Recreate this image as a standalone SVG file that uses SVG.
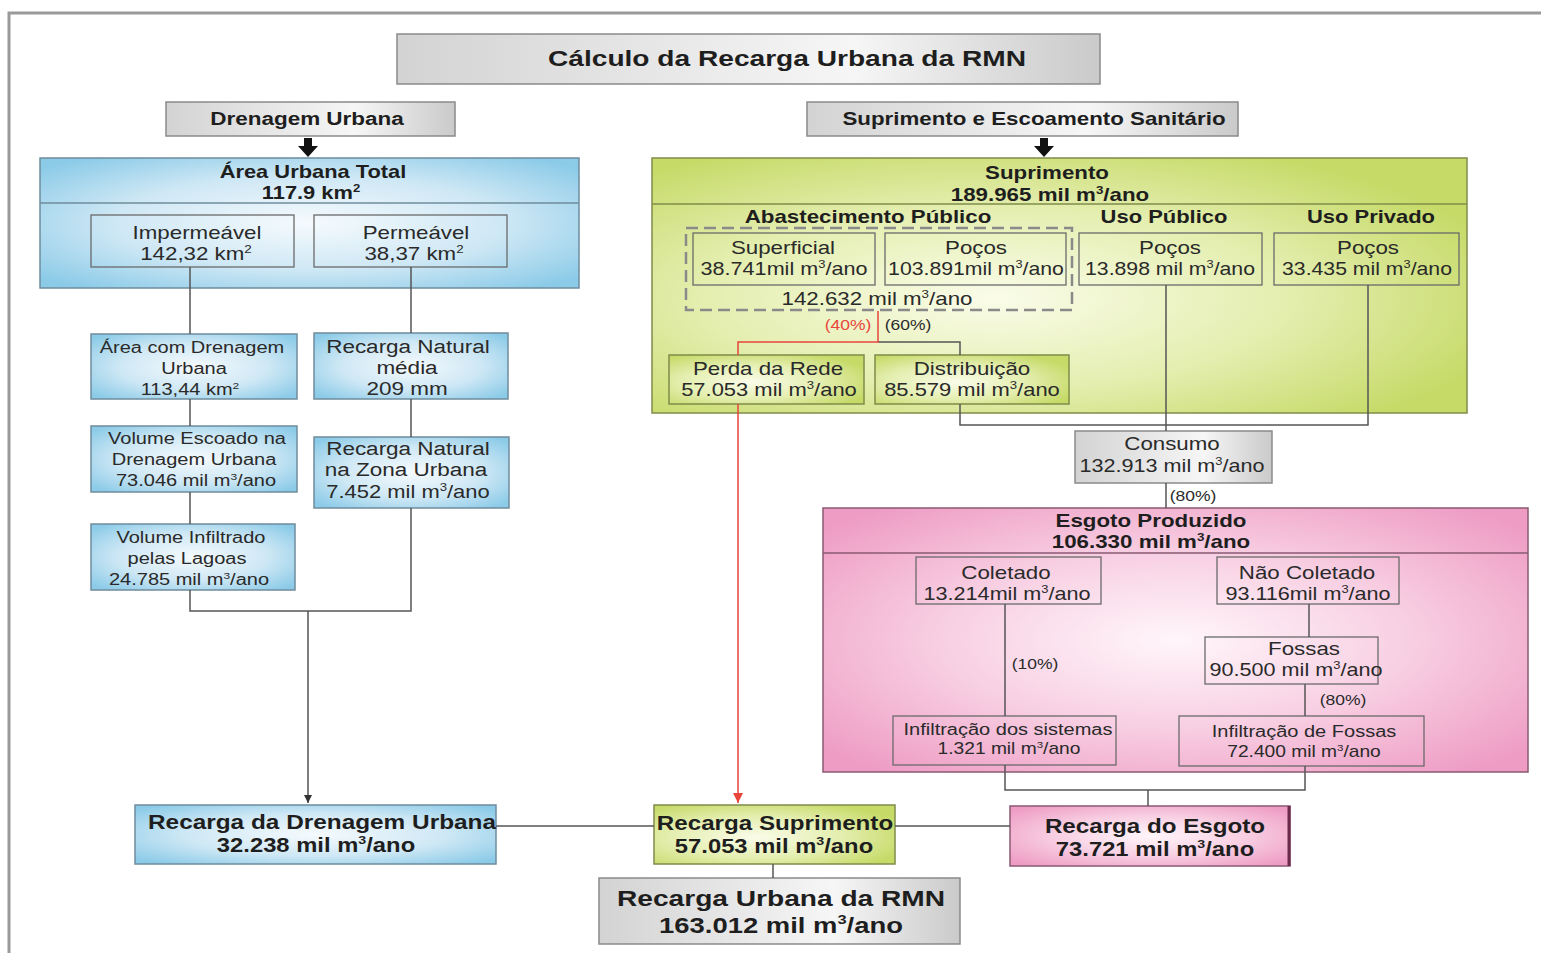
<svg xmlns="http://www.w3.org/2000/svg" width="1541" height="953" viewBox="0 0 1541 953">
<defs>
<radialGradient id="gB" cx="0.5" cy="0.5" r="0.65"><stop offset="0" stop-color="#f5fafd"/><stop offset="0.55" stop-color="#cfe8f5"/><stop offset="1" stop-color="#8ccbe8"/></radialGradient>
<radialGradient id="gG" cx="0.42" cy="0.55" r="0.65"><stop offset="0" stop-color="#fafce9"/><stop offset="0.55" stop-color="#e4eeaf"/><stop offset="1" stop-color="#c6da68"/></radialGradient>
<radialGradient id="gP" cx="0.5" cy="0.5" r="0.65"><stop offset="0" stop-color="#fff6fa"/><stop offset="0.5" stop-color="#f8d0e3"/><stop offset="1" stop-color="#ee9cc4"/></radialGradient>
<linearGradient id="gY" x1="0" y1="0" x2="1" y2="0"><stop offset="0" stop-color="#d3d3d3"/><stop offset="0.65" stop-color="#f6f6f6"/><stop offset="1" stop-color="#cacaca"/></linearGradient>
<marker id="aK" markerWidth="10" markerHeight="10" refX="8" refY="4" orient="auto" markerUnits="userSpaceOnUse"><path d="M0,0 L8,4 L0,8 z" fill="#333"/></marker>
<marker id="aR" markerWidth="12" markerHeight="12" refX="10" refY="5" orient="auto" markerUnits="userSpaceOnUse"><path d="M0,0 L10,5 L0,10 z" fill="#e8453c"/></marker>
<style>
.t{font-family:"Liberation Sans",Arial,sans-serif;text-anchor:middle;fill:#2a2a2a}
.b{font-weight:bold;fill:#1e1e1e}
.s14{font-size:14px}
.s16{font-size:16px}
.s175{font-size:17.5px}
.s18{font-size:18px}
.s195{font-size:19.5px}
.s225{font-size:22.5px}
.sp{font-size:60%}
.bxB{fill:url(#gB);stroke:#6f8c9c;stroke-width:1.5}
.bxG{fill:url(#gG);stroke:#7f8c4a;stroke-width:1.5}
.bxP{fill:url(#gP);stroke:#8a5a72;stroke-width:1.5}
.bxY{fill:url(#gY);stroke:#8a8a8a;stroke-width:1.5}
.in{fill:none;stroke:#6a6a6a;stroke-width:1.3}
.ln{fill:none;stroke:#555;stroke-width:1.5}
.red{fill:none;stroke:#e8453c;stroke-width:1.5}
.dash{fill:none;stroke:#8a8a8a;stroke-width:2.5;stroke-dasharray:12 6}
.arr{fill:#111}
</style>
</defs>
<rect width="1541" height="953" fill="#ffffff"/>
<path d="M9 953 V13 H1541" fill="none" stroke="#9a9a9a" stroke-width="3"/>

<g id="title">
<rect class="bxY" x="397" y="34" width="703" height="50"/>
<text class="t b s225" transform="matrix(1.25 0 0 1 787 0)" x="0" y="66">Cálculo da Recarga Urbana da RMN</text>
</g>

<g id="hdr-drenagem">
<rect class="bxY" x="166" y="102" width="289" height="34"/>
<text class="t b s18" transform="matrix(1.25 0 0 1 307 0)" x="0" y="125">Drenagem Urbana</text>
<polygon class="arr" points="304,138 312,138 312,146 318,146 308,157 298,146 304,146"/>
</g>

<g id="hdr-suprimento">
<rect class="bxY" x="807" y="102" width="431" height="34"/>
<text class="t b s18" transform="matrix(1.24 0 0 1 1034 0)" x="0" y="125">Suprimento e Escoamento Sanitário</text>
<polygon class="arr" points="1040,138 1048,138 1048,146 1054,146 1044,157 1034,146 1040,146"/>
</g>

<g id="area-urbana-total">
<rect class="bxB" x="40" y="158" width="539" height="130"/>
<line x1="40" y1="203" x2="579" y2="203" stroke="#6f8c9c" stroke-width="1.5"/>
<text class="t b s175" transform="matrix(1.25 0 0 1 313 0)" x="0" y="178">Área Urbana Total</text>
<text class="t b s175" transform="matrix(1.25 0 0 1 311 0)" x="0" y="199">117.9 km<tspan class="sp" dy="-7">2</tspan></text>
</g>

<g id="impermeavel">
<rect class="in" x="91" y="215" width="203" height="52"/>
<text class="t s18" transform="matrix(1.24 0 0 1 197 0)" x="0" y="239">Impermeável</text>
<text class="t s18" transform="matrix(1.24 0 0 1 196 0)" x="0" y="260">142,32 km<tspan class="sp" dy="-7">2</tspan></text>
</g>

<g id="permeavel">
<rect class="in" x="314" y="215" width="193" height="52"/>
<text class="t s18" transform="matrix(1.24 0 0 1 416 0)" x="0" y="239">Permeável</text>
<text class="t s18" transform="matrix(1.24 0 0 1 414 0)" x="0" y="260">38,37 km<tspan class="sp" dy="-7">2</tspan></text>
</g>

<g id="area-drenagem">
<rect class="bxB" x="91" y="334" width="206" height="65"/>
<text class="t s16" transform="matrix(1.25 0 0 1 192 0)" x="0" y="353">Área com Drenagem</text>
<text class="t s16" transform="matrix(1.25 0 0 1 194 0)" x="0" y="374">Urbana</text>
<text class="t s16" transform="matrix(1.25 0 0 1 190 0)" x="0" y="395">113,44 km<tspan class="sp" dy="-6">2</tspan></text>
</g>

<g id="recarga-natural-media">
<rect class="bxB" x="314" y="333" width="194" height="66"/>
<text class="t s18" transform="matrix(1.25 0 0 1 408 0)" x="0" y="353">Recarga Natural</text>
<text class="t s18" transform="matrix(1.25 0 0 1 407 0)" x="0" y="374">média</text>
<text class="t s18" transform="matrix(1.25 0 0 1 407 0)" x="0" y="395">209 mm</text>
</g>

<g id="volume-escoado">
<rect class="bxB" x="91" y="426" width="206" height="66"/>
<text class="t s16" transform="matrix(1.25 0 0 1 197 0)" x="0" y="444">Volume Escoado na</text>
<text class="t s16" transform="matrix(1.25 0 0 1 194 0)" x="0" y="465">Drenagem Urbana</text>
<text class="t s16" transform="matrix(1.25 0 0 1 196 0)" x="0" y="486">73.046 mil  m<tspan class="sp" dy="-6">3</tspan><tspan dy="6">/ano</tspan></text>
</g>

<g id="recarga-natural-zona">
<rect class="bxB" x="314" y="437" width="195" height="71"/>
<text class="t s18" transform="matrix(1.25 0 0 1 408 0)" x="0" y="455">Recarga Natural</text>
<text class="t s18" transform="matrix(1.25 0 0 1 406 0)" x="0" y="476">na Zona Urbana</text>
<text class="t s18" transform="matrix(1.22 0 0 1 408 0)" x="0" y="498">7.452 mil  m<tspan class="sp" dy="-7">3</tspan><tspan dy="7">/ano</tspan></text>
</g>

<g id="volume-infiltrado">
<rect class="bxB" x="91" y="524" width="204" height="66"/>
<text class="t s16" transform="matrix(1.25 0 0 1 191 0)" x="0" y="543">Volume Infiltrado</text>
<text class="t s16" transform="matrix(1.25 0 0 1 187 0)" x="0" y="564">pelas Lagoas</text>
<text class="t s16" transform="matrix(1.25 0 0 1 189 0)" x="0" y="585">24.785 mil  m<tspan class="sp" dy="-6">3</tspan><tspan dy="6">/ano</tspan></text>
</g>

<g id="suprimento">
<rect class="bxG" x="652" y="158" width="815" height="255"/>
<line x1="652" y1="204" x2="1467" y2="204" stroke="#7f8c4a" stroke-width="1.5"/>
<text class="t b s18" transform="matrix(1.24 0 0 1 1047 0)" x="0" y="179">Suprimento</text>
<text class="t b s18" transform="matrix(1.24 0 0 1 1050 0)" x="0" y="201">189.965 mil m<tspan class="sp" dy="-7">3</tspan><tspan dy="7">/ano</tspan></text>
<text class="t b s18" transform="matrix(1.24 0 0 1 868 0)" x="0" y="223">Abastecimento Público</text>
<text class="t b s18" transform="matrix(1.22 0 0 1 1164 0)" x="0" y="223">Uso Público</text>
<text class="t b s18" transform="matrix(1.22 0 0 1 1371 0)" x="0" y="223">Uso Privado</text>
</g>

<g id="abastecimento-publico">
<rect class="dash" x="686" y="228" width="386" height="82"/>
<text class="t s18" transform="matrix(1.24 0 0 1 877 0)" x="0" y="305">142.632 mil m<tspan class="sp" dy="-7">3</tspan><tspan dy="7">/ano</tspan></text>
</g>

<g id="superficial">
<rect class="in" x="693" y="233" width="182" height="52"/>
<text class="t s18" transform="matrix(1.24 0 0 1 783 0)" x="0" y="254">Superficial</text>
<text class="t s18" transform="matrix(1.2 0 0 1 784 0)" x="0" y="275">38.741mil m<tspan class="sp" dy="-7">3</tspan><tspan dy="7">/ano</tspan></text>
</g>

<g id="pocos-abastecimento">
<rect class="in" x="885" y="233" width="181" height="52"/>
<text class="t s18" transform="matrix(1.24 0 0 1 976 0)" x="0" y="254">Poços</text>
<text class="t s18" transform="matrix(1.18 0 0 1 976 0)" x="0" y="275">103.891mil m<tspan class="sp" dy="-7">3</tspan><tspan dy="7">/ano</tspan></text>
</g>

<g id="pocos-uso-publico">
<rect class="in" x="1079" y="233" width="183" height="52"/>
<text class="t s18" transform="matrix(1.24 0 0 1 1170 0)" x="0" y="254">Poços</text>
<text class="t s18" transform="matrix(1.18 0 0 1 1170 0)" x="0" y="275">13.898 mil m<tspan class="sp" dy="-7">3</tspan><tspan dy="7">/ano</tspan></text>
</g>

<g id="pocos-uso-privado">
<rect class="in" x="1274" y="233" width="185" height="52"/>
<text class="t s18" transform="matrix(1.24 0 0 1 1368 0)" x="0" y="254">Poços</text>
<text class="t s18" transform="matrix(1.18 0 0 1 1367 0)" x="0" y="275">33.435 mil m<tspan class="sp" dy="-7">3</tspan><tspan dy="7">/ano</tspan></text>
</g>

<g id="perda-rede">
<rect class="bxG" x="669" y="355" width="195" height="49"/>
<text class="t s18" transform="matrix(1.24 0 0 1 768 0)" x="0" y="375">Perda da Rede</text>
<text class="t s18" transform="matrix(1.22 0 0 1 769 0)" x="0" y="396">57.053 mil m<tspan class="sp" dy="-7">3</tspan><tspan dy="7">/ano</tspan></text>
</g>

<g id="distribuicao">
<rect class="bxG" x="875" y="355" width="194" height="49"/>
<text class="t s18" transform="matrix(1.24 0 0 1 972 0)" x="0" y="375">Distribuição</text>
<text class="t s18" transform="matrix(1.22 0 0 1 972 0)" x="0" y="396">85.579 mil m<tspan class="sp" dy="-7">3</tspan><tspan dy="7">/ano</tspan></text>
</g>

<g id="consumo">
<rect class="bxY" x="1075" y="431" width="197" height="52"/>
<text class="t s18" transform="matrix(1.24 0 0 1 1172 0)" x="0" y="450">Consumo</text>
<text class="t s18" transform="matrix(1.2 0 0 1 1172 0)" x="0" y="472">132.913 mil m<tspan class="sp" dy="-7">3</tspan><tspan dy="7">/ano</tspan></text>
</g>

<g id="esgoto-produzido">
<rect class="bxP" x="823" y="508" width="705" height="264"/>
<line x1="823" y1="553" x2="1528" y2="553" stroke="#8a5a72" stroke-width="1.5"/>
<text class="t b s18" transform="matrix(1.24 0 0 1 1151 0)" x="0" y="527">Esgoto Produzido</text>
<text class="t b s18" transform="matrix(1.24 0 0 1 1151 0)" x="0" y="548">106.330 mil m<tspan class="sp" dy="-7">3</tspan><tspan dy="7">/ano</tspan></text>
</g>

<g id="coletado">
<rect class="in" x="916" y="557" width="185" height="47"/>
<text class="t s18" transform="matrix(1.24 0 0 1 1006 0)" x="0" y="579">Coletado</text>
<text class="t s18" transform="matrix(1.2 0 0 1 1007 0)" x="0" y="600">13.214mil m<tspan class="sp" dy="-7">3</tspan><tspan dy="7">/ano</tspan></text>
</g>

<g id="nao-coletado">
<rect class="in" x="1217" y="557" width="182" height="47"/>
<text class="t s18" transform="matrix(1.24 0 0 1 1307 0)" x="0" y="579">Não Coletado</text>
<text class="t s18" transform="matrix(1.2 0 0 1 1308 0)" x="0" y="600">93.116mil m<tspan class="sp" dy="-7">3</tspan><tspan dy="7">/ano</tspan></text>
</g>

<g id="fossas">
<rect class="in" x="1205" y="637" width="173" height="47"/>
<text class="t s18" transform="matrix(1.24 0 0 1 1304 0)" x="0" y="655">Fossas</text>
<text class="t s18" transform="matrix(1.2 0 0 1 1296 0)" x="0" y="676">90.500  mil m<tspan class="sp" dy="-7">3</tspan><tspan dy="7">/ano</tspan></text>
</g>

<g id="infiltracao-sistemas">
<rect class="in" x="893" y="716" width="223" height="49"/>
<text class="t s16" transform="matrix(1.25 0 0 1 1008 0)" x="0" y="735">Infiltração dos sistemas</text>
<text class="t s16" transform="matrix(1.2 0 0 1 1009 0)" x="0" y="754">1.321 mil m<tspan class="sp" dy="-6">3</tspan><tspan dy="6">/ano</tspan></text>
</g>

<g id="infiltracao-fossas">
<rect class="in" x="1179" y="716" width="245" height="50"/>
<text class="t s16" transform="matrix(1.25 0 0 1 1304 0)" x="0" y="737">Infiltração de Fossas</text>
<text class="t s16" transform="matrix(1.2 0 0 1 1304 0)" x="0" y="757">72.400  mil m<tspan class="sp" dy="-6">3</tspan><tspan dy="6">/ano</tspan></text>
</g>

<g id="recarga-drenagem">
<rect class="bxB" x="135" y="805" width="361" height="59"/>
<text class="t b s195" transform="matrix(1.25 0 0 1 322 0)" x="0" y="829">Recarga da Drenagem Urbana</text>
<text class="t b s195" transform="matrix(1.22 0 0 1 316 0)" x="0" y="852">32.238 mil m<tspan class="sp" dy="-8">3</tspan><tspan dy="8">/ano</tspan></text>
</g>

<g id="recarga-suprimento">
<rect class="bxG" x="654" y="805" width="241" height="59"/>
<text class="t b s195" transform="matrix(1.24 0 0 1 775 0)" x="0" y="830">Recarga Suprimento</text>
<text class="t b s195" transform="matrix(1.22 0 0 1 774 0)" x="0" y="853">57.053 mil m<tspan class="sp" dy="-8">3</tspan><tspan dy="8">/ano</tspan></text>
</g>

<g id="recarga-esgoto">
<rect class="bxP" x="1010" y="806" width="280" height="60"/>
<line x1="1289" y1="806" x2="1289" y2="866" stroke="#6b2a48" stroke-width="3"/>
<text class="t b s195" transform="matrix(1.24 0 0 1 1155 0)" x="0" y="833">Recarga do Esgoto</text>
<text class="t b s195" transform="matrix(1.22 0 0 1 1155 0)" x="0" y="856">73.721 mil m<tspan class="sp" dy="-8">3</tspan><tspan dy="8">/ano</tspan></text>
</g>

<g id="recarga-urbana-rmn">
<rect class="bxY" x="599" y="878" width="361" height="66"/>
<text class="t b s225" transform="matrix(1.25 0 0 1 781 0)" x="0" y="906">Recarga Urbana da RMN</text>
<text class="t b s225" transform="matrix(1.22 0 0 1 781 0)" x="0" y="933">163.012 mil m<tspan class="sp" dy="-9">3</tspan><tspan dy="9">/ano</tspan></text>
</g>

<g id="connectors">
<path class="ln" d="M190 267 V334 M411 267 V333 M190 399 V426 M190 492 V524 M411 399 V437 M190 590 V611 H411 V508"/>
<path class="ln" d="M308 611 V803" marker-end="url(#aK)"/>
<path class="ln" d="M878 342 H960 V355"/>
<path class="red" d="M878 311 V342 H738 V355"/>
<path class="red" d="M738 404 V803" marker-end="url(#aR)"/>
<path class="ln" d="M960 404 V425 H1368 V285 M1166 285 V431 M1166 483 V508"/>
<path class="ln" d="M1005 604 V716 M1309 604 V637 M1305 684 V716"/>
<path class="ln" d="M1005 765 V790 H1305 V766 M1148 790 V806"/>
<path class="ln" d="M496 826 H654 M895 826 H1010 M773 864 V878"/>
</g>

<g id="labels">
<text class="t s14" transform="matrix(1.25 0 0 1 848 0)" x="0" y="330" style="fill:#e8453c">(40%)</text>
<text class="t s14" transform="matrix(1.25 0 0 1 908 0)" x="0" y="330">(60%)</text>
<text class="t s14" transform="matrix(1.25 0 0 1 1193 0)" x="0" y="501">(80%)</text>
<text class="t s14" transform="matrix(1.25 0 0 1 1035 0)" x="0" y="669">(10%)</text>
<text class="t s14" transform="matrix(1.25 0 0 1 1343 0)" x="0" y="705">(80%)</text>
</g>
</svg>
